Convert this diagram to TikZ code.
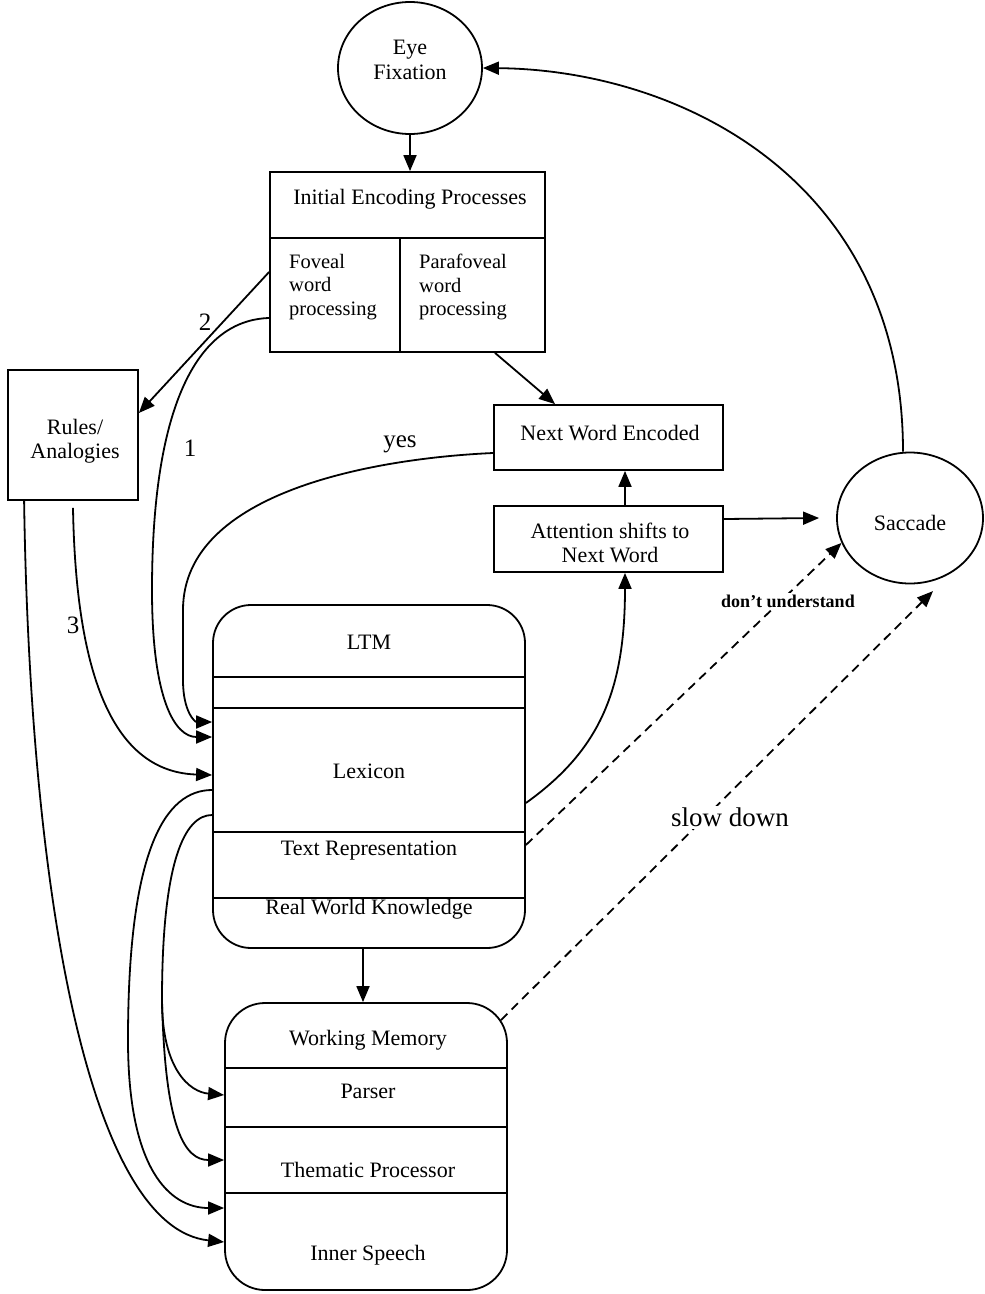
\documentclass[tikz,border=0pt]{standalone}
\usepackage{fontspec}
\setmainfont{Liberation Serif}
\usetikzlibrary{arrows.meta,shapes.geometric,calc}
\begin{document}
\begin{tikzpicture}[x=1pt,y=-1pt,
  lw/.style={line width=1.8pt},
  arr/.style={lw,-{Triangle[length=16pt,width=13pt]}},
  dsh/.style={lw,dash pattern=on 9pt off 6pt,-{Triangle[length=16pt,width=13pt]}},
  box/.style={draw,lw,rectangle,inner sep=0pt},
  rbox/.style={draw,lw,rectangle,rounded corners=38pt,inner sep=0pt},
  oval/.style={draw,lw,ellipse,inner sep=0pt},
  txt/.style={font=\fontsize{22}{24.5}\selectfont,inner sep=0pt,align=center},
  stxt/.style={font=\fontsize{20.5}{23.5}\selectfont,inner sep=0pt,align=left,anchor=north west},
  num/.style={font=\fontsize{25}{28}\selectfont,inner sep=0pt},
  lbl/.style={inner sep=2pt,fill=white}
]
\useasboundingbox (0,0) rectangle (985,1294);

% ---- nodes ----
\node[oval,minimum width=144pt,minimum height=132pt] (eye) at (410,68) {};
\node[txt] (eyet) at (410,60) {Eye\\Fixation};

\node[box,minimum width=275pt,minimum height=66pt] (init) at (407.5,205) {};
\node[txt] (initt) at (410,199) {Initial Encoding Processes};
\node[box,minimum width=130pt,minimum height=114pt] (fov) at (335,295) {};
\node[box,minimum width=145pt,minimum height=114pt] (para) at (472.5,295) {};
\node[stxt] (fovt) at (289,254) {Foveal\\word\\processing};
\node[stxt] (parat) at (419,254) {Parafoveal\\word\\processing};

\node[box,minimum width=130pt,minimum height=130pt] (rules) at (73,435) {};
\node[txt] (rulest) at (75,441) {Rules/\\Analogies};

\node[box,minimum width=229pt,minimum height=65pt] (nwe) at (608.5,437.5) {};
\node[txt] (nwet) at (610,433) {Next Word Encoded};
\node[box,minimum width=229pt,minimum height=66pt] (attn) at (608.5,539) {};
\node[txt] (attnt) at (610,543) {Attention shifts to\\Next Word};

\node[oval,minimum width=146pt,minimum height=131pt] (sac) at (910,518) {};
\node[txt] (sact) at (910,523) {Saccade};

\node[rbox,minimum width=312pt,minimum height=343pt] (ltm) at (369,776.5) {};
\foreach \yy in {677,708,832,898} \draw[lw] (ltm.west |- 0,\yy) -- (ltm.east |- 0,\yy);
\node[txt] (ltmt) at (369,642) {LTM};
\node[txt] (lext) at (369,771) {Lexicon};
\node[txt] (trt) at (369,851) {Text Representation};
\node[txt] (rwkt) at (369,909) {Real World Knowledge};

\node[rbox,rounded corners=40pt,minimum width=282pt,minimum height=287pt] (wm) at (366,1146.5) {};
\foreach \yy in {1068,1127,1193} \draw[lw] (wm.west |- 0,\yy) -- (wm.east |- 0,\yy);
\node[txt] (wmt) at (368,1040) {Working Memory};
\node[txt] (part) at (368,1091) {Parser};
\node[txt] (thet) at (368,1170) {Thematic Processor};
\node[txt] (inst) at (368,1255) {Inner Speech};

\coordinate (split) at (162,1000);
\coordinate (sacin) at ([xshift=-17pt]sac.west);
\coordinate (sdend) at ([yshift=-10pt]sac.290);

% ---- connectors ----
\draw[arr] (eye.south) -- (eye.south |- init.north);
\draw[arr] ([xshift=22.5pt]para.south) -- ([xshift=-53.5pt]nwe.north);
\draw[arr] ([xshift=16.5pt]attn.north) -- ([xshift=16.5pt]nwe.south);
\draw[arr] ([yshift=20pt]attn.east) -- (sacin);
\draw[arr] ([xshift=-7pt]sac.north) .. controls (903,180) and (680,70) .. (eye.east);
\draw[arr] ([yshift=-26.5pt]ltm.east) .. controls (600,750) and (625,690) .. ([xshift=16.5pt]attn.south);
\draw[arr] ([xshift=-6pt]ltm.south) -- ([xshift=-6pt]ltm.south |- wm.north);

% 2
\draw[arr] ([yshift=23pt]fov.west) -- ([yshift=22pt]rules.east);
\node[num] (n2) at (205,322) {2};
% 1
\draw[arr] ([yshift=-23pt]fov.west) .. controls (200,320) and (152,400) .. (152,590)
  .. controls (152,700) and (175,737) .. ([yshift=39.5pt]ltm.west);
\node[num] (n1) at (190,448) {1};
% yes
\draw[arr] ([yshift=-15.5pt]nwe.west) .. controls (380,458) and (183,490) .. (183,610)
  -- (183,680) .. controls (183,712) and (195,722) .. ([yshift=54.5pt]ltm.west);
\node[txt,font=\fontsize{25}{28}\selectfont] (yest) at (400,444) {yes};
% 3
\draw[arr] ([yshift=-7pt]rules.south) .. controls (76,680) and (115,772) .. ([yshift=1.5pt]ltm.west);
\node[num] (n3) at (73,625) {3};
% rules to inner speech
\draw[arr] ([xshift=17pt]rules.south west) .. controls (30,900) and (90,1228) .. ([yshift=-95.5pt]wm.west);
% lexicon to inner speech
\draw[arr] ([yshift=-13.5pt]ltm.west) .. controls (165,790) and (128,850) .. (128,1040)
  .. controls (128,1170) and (170,1208) .. ([yshift=-61.5pt]wm.west);
% lexicon to parser and thematic
\draw[lw] ([yshift=-38.5pt]ltm.west) .. controls (185,815) and (162,860) .. (split);
\draw[arr] (split) .. controls (162,1070) and (190,1092) .. ([yshift=51.5pt]wm.west);
\draw[arr] (split) .. controls (165,1130) and (185,1160) .. ([yshift=-13.5pt]wm.west);

% dashed
\draw[dsh] ([yshift=-68.5pt]ltm.east) -- (sac.200);
\node[lbl,font=\bfseries\fontsize{18}{20}\selectfont] (dut) at (788,601) {don’t understand};
\draw[dsh] ([shift={(-7pt,-18pt)}]wm.north east) -- (sdend);
\node[lbl,font=\fontsize{27}{30}\selectfont] (sdt) at (730,817) {slow down};
\end{tikzpicture}
\end{document}
